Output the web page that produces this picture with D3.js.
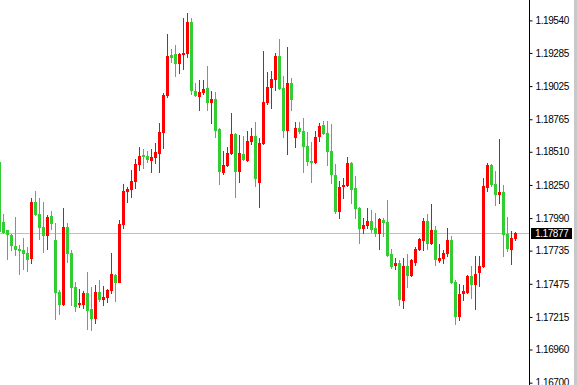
<!DOCTYPE html>
<html>
<head>
<meta charset="utf-8">
<script src="https://cdn.jsdelivr.net/npm/d3@7"></script>
<style>
  html, body { margin:0; padding:0; background:#fff; overflow:hidden; }
  svg { display:block; }
  .tick text { font-family:"Liberation Sans", Arial, sans-serif; font-size:10px; letter-spacing:-0.4px; fill:#000; }
</style>
</head>
<body>
<svg id="chart" width="577" height="385"></svg>
<script>
// EURUSD-like candles, left to right (first one is cut by the left edge)
const open = [
  1.18430,1.17960,1.17897,1.17858,1.17771,1.17748,1.17740,1.17716,1.17669,1.18116,
  1.18022,1.17920,1.17850,1.18007,1.17818,1.17411,1.17309,1.17920,1.17716,1.17450,
  1.17309,1.17309,1.17403,1.17277,1.17199,1.17411,1.17348,1.17364,1.17419,1.17544,
  1.17481,1.17936,1.18195,1.18210,1.18273,1.18406,1.18485,1.18477,1.18438,1.18461,
  1.18493,1.18657,1.18947,1.19269,1.19277,1.19198,1.19269,1.19277,1.19528,1.18987,
  1.18940,1.18971,1.19010,1.18893,1.18924,1.18689,1.18344,1.18399,1.18493,1.18649,
  1.18352,1.18493,1.18438,1.18587,1.18634,1.18265,1.18571,1.18893,1.19010,1.19073,
  1.19261,1.19010,1.18673,1.19049,1.18618,1.18697,1.18673,1.18555,1.18438,1.18422,
  1.18626,1.18720,1.18657,1.18516,1.18328,1.18038,1.18234,1.18242,1.18422,1.18226,
  1.18069,1.17905,1.17928,1.17967,1.17912,1.17865,1.17975,1.17960,1.17709,1.17615,
  1.17638,1.17340,1.17615,1.17536,1.17638,1.17740,1.17811,1.17967,1.17787,1.17897,
  1.17654,1.17669,1.17709,1.17818,1.17489,1.17215,1.17395,1.17403,1.17536,1.17466,
  1.17560,1.17607,1.18226,1.18406,1.18257,1.18171,1.18195,1.17865,1.17740,1.17826
];
const high = [
  1.18460,1.18022,1.17900,1.17865,1.17999,1.17779,1.17834,1.17763,1.18148,1.18203,
  1.18148,1.18116,1.18014,1.18046,1.17952,1.17426,1.18069,1.17952,1.17740,1.17489,
  1.17434,1.17419,1.17567,1.17450,1.17466,1.17505,1.17458,1.17434,1.17716,1.17552,
  1.17975,1.18257,1.18234,1.18367,1.18453,1.18548,1.18532,1.18516,1.18532,1.18579,
  1.18736,1.18971,1.19433,1.19316,1.19347,1.19285,1.19559,1.19598,1.19559,1.19049,
  1.19073,1.19073,1.19183,1.18987,1.18979,1.18695,1.18516,1.18548,1.18814,1.18657,
  1.18642,1.18634,1.18673,1.18697,1.18744,1.18618,1.19300,1.19136,1.19143,1.19285,
  1.19394,1.19104,1.19332,1.19089,1.18744,1.18744,1.18775,1.18665,1.18587,1.18673,
  1.18736,1.18751,1.18751,1.18728,1.18414,1.18281,1.18304,1.18469,1.18430,1.18320,
  1.18075,1.17991,1.18069,1.18054,1.18030,1.17991,1.17991,1.18132,1.17748,1.17677,
  1.17662,1.17677,1.17709,1.17669,1.17763,1.17834,1.17991,1.18022,1.18101,1.17928,
  1.17787,1.17740,1.17912,1.17850,1.17505,1.17473,1.17466,1.17544,1.17615,1.17693,
  1.17693,1.18304,1.18422,1.18414,1.18359,1.18610,1.18250,1.17999,1.17889,1.17881
];
const low = [
  1.17860,1.17865,1.17662,1.17732,1.17693,1.17544,1.17583,1.17567,1.17630,1.18007,
  1.17818,1.17716,1.17740,1.17897,1.17191,1.17230,1.17301,1.17638,1.17301,1.17254,
  1.17285,1.17277,1.17113,1.17105,1.17160,1.17332,1.17301,1.17325,1.17395,1.17332,
  1.17478,1.17905,1.18109,1.18148,1.18218,1.18359,1.18375,1.18422,1.18344,1.18414,
  1.18344,1.18532,1.18932,1.19206,1.19096,1.19120,1.19151,1.19245,1.18955,1.18940,
  1.18830,1.18955,1.18830,1.18728,1.18618,1.18250,1.18328,1.18391,1.18485,1.18148,
  1.18265,1.18438,1.18432,1.18563,1.18234,1.18069,1.18565,1.18877,1.18845,1.18987,
  1.18994,1.18618,1.18485,1.18830,1.18540,1.18649,1.18344,1.18399,1.18265,1.18418,
  1.18587,1.18645,1.18399,1.18257,1.18022,1.17983,1.18140,1.18234,1.18101,1.17983,
  1.17787,1.17865,1.17905,1.17873,1.17842,1.17740,1.17842,1.17688,1.17591,1.17583,
  1.17301,1.17277,1.17442,1.17530,1.17615,1.17732,1.17732,1.17740,1.17782,1.17615,
  1.17638,1.17630,1.17685,1.17473,1.17152,1.17183,1.17340,1.17398,1.17356,1.17270,
  1.17450,1.17600,1.18195,1.18234,1.18085,1.18101,1.17685,1.17724,1.17622,1.17811
];
const close = [
  1.17881,1.17873,1.17858,1.17771,1.17740,1.17732,1.17709,1.17662,1.18116,1.18014,
  1.17912,1.17850,1.17999,1.17944,1.17403,1.17309,1.17920,1.17709,1.17442,1.17293,
  1.17325,1.17403,1.17262,1.17199,1.17411,1.17348,1.17372,1.17426,1.17552,1.17481,
  1.17944,1.18203,1.18218,1.18281,1.18414,1.18477,1.18469,1.18446,1.18469,1.18508,
  1.18665,1.18955,1.19261,1.19245,1.19198,1.19277,1.19285,1.19528,1.18987,1.18947,
  1.18979,1.19002,1.18893,1.18924,1.18673,1.18352,1.18406,1.18500,1.18649,1.18352,
  1.18500,1.18446,1.18595,1.18634,1.18297,1.18579,1.18900,1.19018,1.19081,1.19261,
  1.19002,1.18673,1.19049,1.18916,1.18697,1.18665,1.18548,1.18430,1.18422,1.18626,
  1.18712,1.18649,1.18508,1.18328,1.18038,1.18234,1.18250,1.18422,1.18210,1.18061,
  1.17905,1.17936,1.17967,1.17897,1.17865,1.17983,1.17952,1.17693,1.17607,1.17638,
  1.17348,1.17615,1.17536,1.17662,1.17748,1.17826,1.17967,1.17787,1.17897,1.17662,
  1.17677,1.17716,1.17818,1.17481,1.17215,1.17395,1.17419,1.17536,1.17466,1.17552,
  1.17615,1.18242,1.18406,1.18250,1.18171,1.18195,1.17858,1.17748,1.17834,1.17877
];
const tickLabels = ['1.19540','1.19285','1.19025','1.18765','1.18510','1.18250',
                    '1.17990','1.17735','1.17475','1.17215','1.16960','1.16700'];
const lastPrice = '1.17877';

const svg = d3.select('#chart');
const W = 577, H = 385, axisX = 529;
const upColor = '#ff0000', downColor = '#32cd32';

const candles = open.map((o,i) => ({ i, o, h:high[i], l:low[i], c:close[i] }));

const x = d3.scaleLinear().domain([0, candles.length-1]).range([-0.5, -0.5 + 4*(candles.length-1)]);
const y = d3.scaleLinear().domain([1.167, 1.197]).range([382.65, 0]);

// current price line (behind candles)
const py = Math.round(y(+lastPrice)) + 0.5;
svg.append('line')
  .attr('x1',0).attr('x2',axisX).attr('y1',py).attr('y2',py)
  .attr('stroke','#c0c0c0').attr('stroke-width',1);

const g = svg.append('g');
const cg = g.selectAll('g.candle').data(candles).join('g').attr('class','candle')
  .attr('fill', d => d.c > d.o ? upColor : downColor);

cg.append('rect')
  .attr('x', d => x(d.i) - 0.5)
  .attr('width', 1)
  .attr('y', d => Math.round(y(d.h)))
  .attr('height', d => Math.max(1, Math.round(y(d.l)) - Math.round(y(d.h))));

cg.append('rect')
  .attr('x', d => x(d.i) - 1.5)
  .attr('width', 3)
  .attr('y', d => Math.round(y(Math.max(d.o,d.c))))
  .attr('height', d => Math.max(1, Math.round(y(Math.min(d.o,d.c))) - Math.round(y(Math.max(d.o,d.c)))));

// price axis
const ax = svg.append('g').attr('transform', `translate(${axisX+0.5},0)`)
  .call(d3.axisRight(y).tickValues(tickLabels.map(Number)).tickFormat(d3.format('.5f'))
    .tickSize(3).tickPadding(3).tickSizeOuter(0));
ax.select('.domain').remove();
ax.selectAll('.tick line').attr('stroke','#000');

svg.append('line')
  .attr('x1',axisX+0.5).attr('x2',axisX+0.5).attr('y1',0).attr('y2',H)
  .attr('stroke','#000');

// last price tag
svg.append('rect')
  .attr('x',axisX+2).attr('y',py-5.5).attr('width',41).attr('height',11)
  .attr('fill','#000');
svg.append('text')
  .attr('x',axisX+6).attr('y',py).attr('dy','0.35em')
  .style('font-family','"Liberation Sans", Arial, sans-serif')
  .style('font-size','10px').style('letter-spacing','-0.4px')
  .attr('fill','#fff')
  .text(lastPrice);

// window edge
svg.append('rect').attr('x',574).attr('y',0).attr('width',3).attr('height',H).attr('fill','#c8c8c8');
</script>
</body>
</html>
